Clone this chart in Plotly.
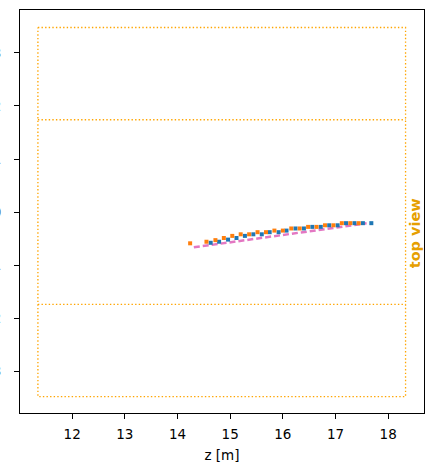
import plotly.graph_objects as go

# --- data ---
orange_z = [14.24, 14.55, 14.72, 14.88, 15.04, 15.20, 15.36, 15.52, 15.68, 15.84,
            16.00, 16.16, 16.32, 16.48, 16.64, 16.80, 16.96, 17.12, 17.28, 17.44]
orange_y = [-0.59, -0.56, -0.53, -0.49, -0.45, -0.42, -0.42, -0.38, -0.38, -0.35,
            -0.35, -0.31, -0.31, -0.28, -0.28, -0.25, -0.25, -0.21, -0.21, -0.21]
blue_z = [14.63, 14.79, 14.96, 15.12, 15.28, 15.44, 15.60, 15.75, 15.92, 16.07,
          16.24, 16.40, 16.56, 16.72, 16.88, 17.04, 17.20, 17.36, 17.52, 17.68]
blue_y = [-0.58, -0.56, -0.52, -0.49, -0.45, -0.42, -0.42, -0.38, -0.38, -0.35,
          -0.31, -0.31, -0.28, -0.28, -0.25, -0.25, -0.21, -0.21, -0.21, -0.21]
fit_z = [14.31, 17.59]
fit_y = [-0.666, -0.213]

# detector outline (top view)
rect_z = [11.35, 18.33, 18.33, 11.35, 11.35]
rect_y = [3.48, 3.48, -3.48, -3.48, 3.48]
inner_upper_z = [11.35, 18.33]
inner_upper_y = [1.74, 1.74]
inner_lower_z = [11.35, 18.33]
inner_lower_y = [-1.74, -1.74]

x_ticks = [12, 13, 14, 15, 16, 17, 18]
y_ticks = [-3, -2, -1, 0, 1, 2, 3]

FONT = "DejaVu Sans"
fig = go.Figure()

for zz, yy in [(rect_z, rect_y), (inner_upper_z, inner_upper_y), (inner_lower_z, inner_lower_y)]:
    fig.add_trace(go.Scatter(x=zz, y=yy, mode="lines",
                             line=dict(color="#FFA500", width=1.3, dash="1.4px,2.2px"),
                             hoverinfo="skip", showlegend=False))

fig.add_trace(go.Scatter(x=fit_z, y=fit_y, mode="lines",
                         line=dict(color="#e377c2", width=2.5, dash="6px,3px"),
                         showlegend=False))
fig.add_trace(go.Scatter(x=blue_z, y=blue_y, mode="markers",
                         marker=dict(symbol="square", size=4, color="#1f77b4"),
                         showlegend=False))
fig.add_trace(go.Scatter(x=orange_z, y=orange_y, mode="markers",
                         marker=dict(symbol="square", size=4, color="#ff7f0e"),
                         showlegend=False))

fig.add_annotation(x=18.5, y=-0.41, xref="x", yref="y", text="<b>top view</b>",
                   textangle=-90, showarrow=False,
                   font=dict(family=FONT, size=14.5, color="#E69F00"))

fig.update_layout(
    width=435, height=472,
    margin=dict(l=20, r=11, t=10, b=59),
    paper_bgcolor="white", plot_bgcolor="white",
    font=dict(family=FONT, size=13.5, color="black"),
    xaxis=dict(range=[11.01, 18.68], tickvals=x_ticks, ticks="outside", ticklen=5,
               tickcolor="black", showgrid=False, zeroline=False, showline=True,
               linecolor="black", linewidth=1, mirror=True,
               title=dict(text="z [m]", standoff=9, font=dict(size=13.5)),
               tickfont=dict(size=13.5), ticklabelstandoff=4, automargin=False),
    yaxis=dict(range=[-3.79, 3.81], tickvals=y_ticks, ticks="outside", ticklen=5,
               tickcolor="black", showgrid=False, zeroline=False, showline=True,
               linecolor="black", linewidth=1, mirror=True,
               tickfont=dict(size=13.5, color="#444444"), ticklabelstandoff=10,
               automargin=False),
)

fig.write_html("out.html")
